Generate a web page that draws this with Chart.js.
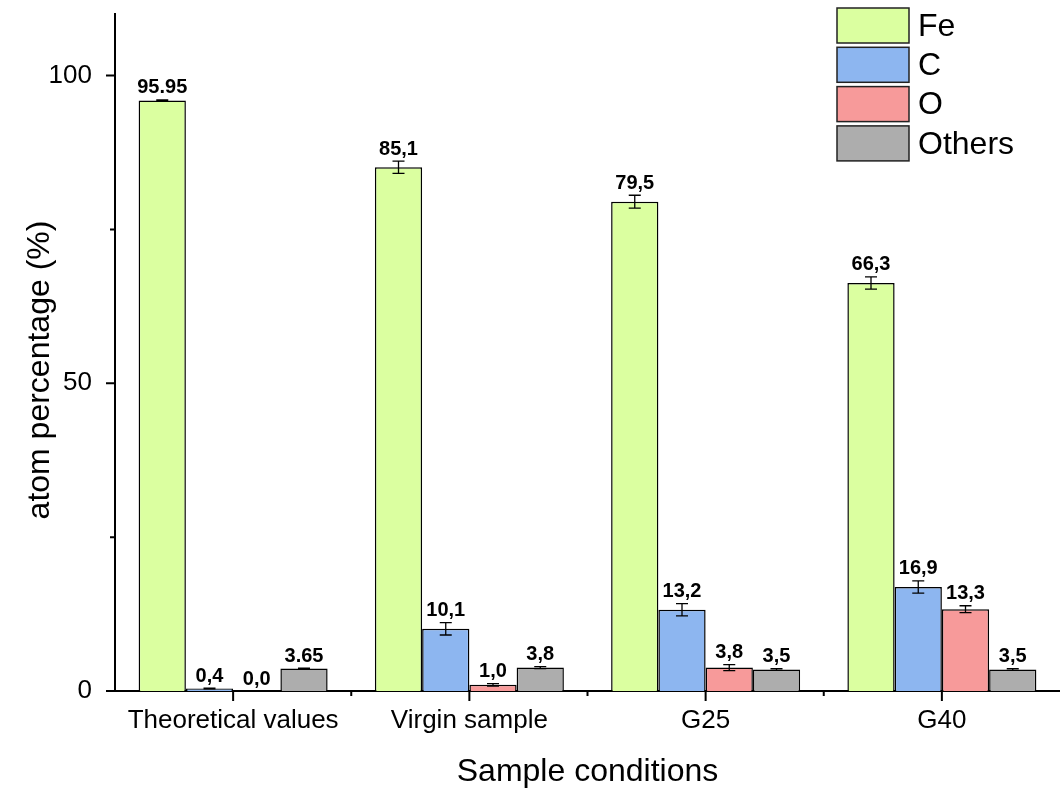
<!DOCTYPE html>
<html>
<head>
<meta charset="utf-8">
<script src="https://cdn.jsdelivr.net/npm/chart.js@4.4.1/dist/chart.umd.min.js"></script>
<style>
  html, body { margin: 0; padding: 0; background: #fff; }
  #wrap { width: 1060px; height: 788px; }
</style>
</head>
<body>
<div id="wrap"><canvas id="atomChart" width="1060" height="788"></canvas></div>
<script>
// categories and series
const categories = ['Theoretical values', 'Virgin sample', 'G25', 'G40'];
const seriesNames = ['Fe', 'C', 'O', 'Others'];

const feValues = [95.95, 85.1, 79.5, 66.3];
const cValues = [0.4, 10.1, 13.2, 16.9];
const oValues = [0.0, 1.0, 3.8, 13.3];
const othersValues = [3.65, 3.8, 3.5, 3.5];

const feErrors = [0.1, 1.0, 1.05, 1.0];
const cErrors = [0.05, 1.0, 1.0, 1.0];
const oErrors = [0, 0.2, 0.5, 0.55];
const othersErrors = [0.05, 0.15, 0.15, 0.15];

const feLabels = ['95.95', '85,1', '79,5', '66,3'];
const cLabels = ['0,4', '10,1', '13,2', '16,9'];
const oLabels = ['0,0', '1,0', '3,8', '13,3'];
const othersLabels = ['3.65', '3,8', '3,5', '3,5'];

const yMajorTicks = [0, 50, 100];
const yMinorTicks = [25, 75];
const yTitle = 'atom percentage (%)';

const colors = ['#dbffa0', '#8db6f0', '#f79a9a', '#adadad'];
const FONT = '"Liberation Sans", Arial, sans-serif';

const allValues = [feValues, cValues, oValues, othersValues];
const allErrors = [feErrors, cErrors, oErrors, othersErrors];
const allLabels = [feLabels, cLabels, oLabels, othersLabels];

// error bars + value labels above each bar
const errorBarPlugin = {
    id: 'errorBars',
    afterDatasetsDraw(chart) {
        const ctx = chart.ctx;
        const y = chart.scales.y;
        ctx.save();
        chart.data.datasets.forEach((ds, i) => {
            const meta = chart.getDatasetMeta(i);
            meta.data.forEach((bar, j) => {
                const v = allValues[i][j];
                const e = allErrors[i][j];
                const top = y.getPixelForValue(v + e);
                const bot = y.getPixelForValue(Math.max(0, v - e));
                if (e > 0) {
                    ctx.strokeStyle = '#000';
                    ctx.lineWidth = 1.3;
                    ctx.beginPath();
                    ctx.moveTo(bar.x, top);
                    ctx.lineTo(bar.x, bot);
                    ctx.moveTo(bar.x - 6, top);
                    ctx.lineTo(bar.x + 6, top);
                    ctx.moveTo(bar.x - 6, bot);
                    ctx.lineTo(bar.x + 6, bot);
                    ctx.stroke();
                }
                ctx.fillStyle = '#000';
                ctx.font = 'bold 20px ' + FONT;
                ctx.textAlign = 'center';
                ctx.textBaseline = 'bottom';
                ctx.fillText(allLabels[i][j], bar.x, Math.min(top, y.getPixelForValue(v)) - 2);
            });
        });
        ctx.restore();
    }
};

// axis tick marks (major + minor) and the y title, drawn by hand
const tickPlugin = {
    id: 'axisTicks',
    afterDraw(chart) {
        const ctx = chart.ctx;
        const x = chart.scales.x;
        const y = chart.scales.y;
        const area = chart.chartArea;
        ctx.save();
        ctx.strokeStyle = '#000';
        ctx.lineWidth = 2;
        ctx.beginPath();
        yMajorTicks.forEach(v => {
            const py = y.getPixelForValue(v);
            ctx.moveTo(area.left - 9, py);
            ctx.lineTo(area.left, py);
        });
        yMinorTicks.forEach(v => {
            const py = y.getPixelForValue(v);
            ctx.moveTo(area.left - 5, py);
            ctx.lineTo(area.left, py);
        });
        categories.forEach((c, i) => {
            const px = x.getPixelForValue(i);
            ctx.moveTo(px, area.bottom);
            ctx.lineTo(px, area.bottom + 10);
            if (i > 0) {
                const mx = x.getPixelForValue(i - 0.5);
                ctx.moveTo(mx, area.bottom);
                ctx.lineTo(mx, area.bottom + 5);
            }
        });
        ctx.stroke();

        ctx.translate(40, 370);
        ctx.rotate(-Math.PI / 2);
        ctx.fillStyle = '#000';
        ctx.font = '32px ' + FONT;
        ctx.textAlign = 'center';
        ctx.textBaseline = 'middle';
        ctx.fillText(yTitle, 0, 0);
        ctx.restore();
    }
};

// legend in the top right corner
const legendPlugin = {
    id: 'boxLegend',
    afterDraw(chart) {
        const ctx = chart.ctx;
        ctx.save();
        seriesNames.forEach((name, i) => {
            const top = 8 + i * 39.3;
            ctx.fillStyle = colors[i];
            ctx.fillRect(837, top, 72, 35);
            ctx.strokeStyle = '#222';
            ctx.lineWidth = 1.5;
            ctx.strokeRect(837, top, 72, 35);
            ctx.fillStyle = '#000';
            ctx.font = '32px ' + FONT;
            ctx.textAlign = 'left';
            ctx.textBaseline = 'middle';
            ctx.fillText(name, 918, top + 19);
        });
        ctx.restore();
    }
};

const ctx = document.getElementById('atomChart');

new Chart(ctx, {
    type: 'bar',
    data: {
        labels: categories,
        datasets: seriesNames.map((name, i) => ({
            label: name,
            data: allValues[i],
            backgroundColor: colors[i],
            borderColor: '#000',
            borderWidth: 1.5,
            categoryPercentage: 0.8,
            barPercentage: 1.0
        }))
    },
    options: {
        responsive: false,
        animation: false,
        layout: { padding: { top: 14, right: 0, left: 0, bottom: 0 } },
        plugins: {
            legend: { display: false },
            tooltip: { enabled: false }
        },
        scales: {
            x: {
                grid: { display: false },
                border: { display: true, color: '#000', width: 2 },
                ticks: {
                    color: '#000',
                    font: { family: FONT, size: 26 },
                    padding: 6,
                    maxRotation: 0
                },
                title: {
                    display: true,
                    text: 'Sample conditions',
                    color: '#000',
                    font: { family: FONT, size: 32, lineHeight: 1.0 },
                    padding: { top: 0, bottom: 0 }
                },
                afterFit(scale) {
                    scale.height = 97;
                    scale.paddingLeft = 0;
                    scale.paddingRight = 0;
                }
            },
            y: {
                min: 0,
                max: 110,
                grid: { display: false },
                border: { display: true, color: '#000', width: 2 },
                afterBuildTicks(scale) {
                    scale.ticks = yMajorTicks.map(v => ({ value: v }));
                },
                ticks: {
                    color: '#000',
                    font: { family: FONT, size: 26 },
                    padding: 15
                },
                afterFit(scale) {
                    scale.width = 115;
                    scale.paddingTop = 0;
                    scale.paddingBottom = 0;
                }
            }
        }
    },
    plugins: [errorBarPlugin, tickPlugin, legendPlugin]
});
</script>
</body>
</html>
